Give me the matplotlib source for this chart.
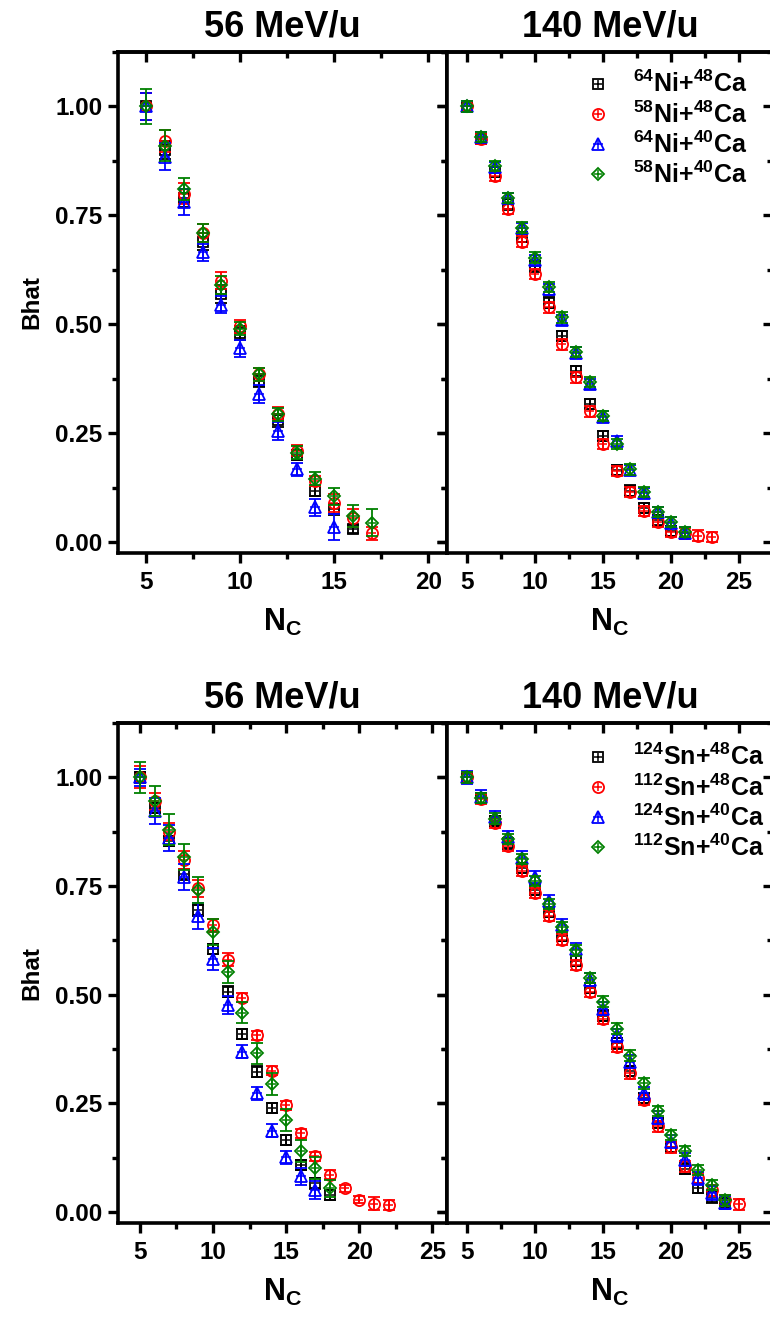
import matplotlib
matplotlib.use("Agg")
import matplotlib.pyplot as plt
from matplotlib.ticker import MultipleLocator, FormatStrFormatter
from matplotlib.lines import Line2D

plt.rcParams['font.family'] = ['Liberation Sans', 'DejaVu Sans']
plt.rcParams['font.weight'] = 'bold'
plt.rcParams['mathtext.fontset'] = 'custom'
plt.rcParams['mathtext.rm'] = 'Liberation Sans:bold'
plt.rcParams['mathtext.bf'] = 'Liberation Sans:bold'
plt.rcParams['mathtext.it'] = 'Liberation Sans:bold'

# ---------------- data ----------------
titles = ["56 MeV/u", "140 MeV/u"]
ni_labels = [r"$^{64}$Ni+$^{48}$Ca", r"$^{58}$Ni+$^{48}$Ca", r"$^{64}$Ni+$^{40}$Ca", r"$^{58}$Ni+$^{40}$Ca"]
sn_labels = [r"$^{124}$Sn+$^{48}$Ca", r"$^{112}$Sn+$^{48}$Ca", r"$^{124}$Sn+$^{40}$Ca", r"$^{112}$Sn+$^{40}$Ca"]

# Ni, 56 MeV/u
ni56_x = [list(range(5, 17)), list(range(5, 18)), list(range(5, 16)), list(range(5, 18))]
ni56_y = [
    [1.0, 0.90, 0.79, 0.69, 0.57, 0.48, 0.37, 0.28, 0.20, 0.117, 0.075, 0.03],
    [1.0, 0.92, 0.80, 0.71, 0.60, 0.495, 0.385, 0.295, 0.21, 0.14, 0.09, 0.055, 0.02],
    [1.0, 0.885, 0.78, 0.665, 0.545, 0.445, 0.34, 0.255, 0.167, 0.08, 0.034],
    [1.0, 0.91, 0.81, 0.71, 0.59, 0.49, 0.385, 0.293, 0.205, 0.145, 0.105, 0.06, 0.045],
]
ni56_e = [
    [0.03, 0.02, 0.02, 0.02, 0.02, 0.015, 0.015, 0.015, 0.012, 0.012, 0.012, 0.01],
    [0.03, 0.025, 0.025, 0.02, 0.02, 0.015, 0.015, 0.015, 0.012, 0.012, 0.02, 0.02, 0.015],
    [0.03, 0.03, 0.03, 0.02, 0.02, 0.02, 0.02, 0.02, 0.015, 0.02, 0.03],
    [0.04, 0.035, 0.025, 0.02, 0.02, 0.015, 0.015, 0.015, 0.015, 0.015, 0.02, 0.025, 0.03],
]

# Ni, 140 MeV/u
ni140_x = [list(range(5, 21)), list(range(5, 24)), list(range(5, 22)), list(range(5, 22))]
ni140_y = [
    [1.0, 0.925, 0.85, 0.775, 0.70, 0.633, 0.55, 0.473, 0.392, 0.317, 0.244, 0.165, 0.118, 0.078, 0.05, 0.025],
    [1.0, 0.925, 0.84, 0.764, 0.69, 0.615, 0.539, 0.454, 0.378, 0.30, 0.225, 0.163, 0.115, 0.072, 0.046, 0.023, 0.02, 0.015, 0.012],
    [1.0, 0.93, 0.86, 0.79, 0.72, 0.648, 0.58, 0.51, 0.435, 0.363, 0.288, 0.232, 0.165, 0.113, 0.068, 0.045, 0.022],
    [1.0, 0.93, 0.863, 0.79, 0.722, 0.653, 0.585, 0.516, 0.436, 0.367, 0.289, 0.225, 0.167, 0.115, 0.069, 0.046, 0.023],
]
ni140_e = [
    [0.012] * 16,
    [0.012] * 19,
    [0.012] * 17,
    [0.012] * 17,
]

# Sn, 56 MeV/u
sn56_x = [list(range(5, 19)), list(range(5, 23)), list(range(5, 18)), list(range(5, 19))]
sn56_y = [
    [1.0, 0.93, 0.854, 0.777, 0.694, 0.605, 0.507, 0.41, 0.323, 0.239, 0.166, 0.109, 0.066, 0.039],
    [1.0, 0.945, 0.875, 0.81, 0.745, 0.66, 0.58, 0.493, 0.407, 0.325, 0.246, 0.181, 0.128, 0.086, 0.055, 0.028, 0.019, 0.016],
    [1.0, 0.923, 0.86, 0.77, 0.682, 0.583, 0.476, 0.369, 0.273, 0.187, 0.126, 0.082, 0.051],
    [1.0, 0.946, 0.88, 0.816, 0.74, 0.644, 0.553, 0.459, 0.365, 0.294, 0.212, 0.14, 0.101, 0.055],
]
sn56_e = [
    [0.012] * 14,
    [0.025, 0.02, 0.02, 0.02, 0.02, 0.015, 0.015, 0.01, 0.01, 0.01, 0.01, 0.01, 0.01, 0.01, 0.008, 0.008, 0.015, 0.012],
    [0.02, 0.03, 0.03, 0.03, 0.03, 0.025, 0.02, 0.015, 0.015, 0.015, 0.015, 0.02, 0.02],
    [0.035, 0.035, 0.035, 0.03, 0.03, 0.03, 0.025, 0.025, 0.025, 0.025, 0.025, 0.025, 0.025, 0.02],
]

# Sn, 140 MeV/u
sn140_x = [list(range(5, 25)), list(range(5, 26)), list(range(5, 25)), list(range(5, 25))]
sn140_y = [
    [1.0, 0.952, 0.9, 0.848, 0.792, 0.742, 0.69, 0.635, 0.578, 0.515, 0.452, 0.388, 0.325, 0.262, 0.205, 0.15, 0.1, 0.055, 0.034, 0.02],
    [1.0, 0.95, 0.895, 0.842, 0.785, 0.734, 0.682, 0.627, 0.568, 0.507, 0.445, 0.38, 0.319, 0.258, 0.197, 0.149, 0.105, 0.078, 0.05, 0.028, 0.018],
    [1.0, 0.955, 0.908, 0.862, 0.815, 0.77, 0.715, 0.66, 0.605, 0.535, 0.468, 0.407, 0.346, 0.273, 0.217, 0.162, 0.12, 0.078, 0.044, 0.022],
    [1.0, 0.952, 0.905, 0.858, 0.812, 0.762, 0.709, 0.656, 0.602, 0.539, 0.484, 0.422, 0.36, 0.296, 0.233, 0.178, 0.141, 0.097, 0.063, 0.027],
]
sn140_e = [
    [0.012] * 20,
    [0.012] * 21,
    [0.015] * 20,
    [0.012] * 20,
]

colors = ['#000000', '#FF0000', '#0000FF', '#008000']
markers = ['s', 'o', '^', 'D']
msizes = [7.5, 8, 8.5, 7.5]

W, H = 770, 1317
fig = plt.figure(figsize=(W / 100, H / 100), dpi=100)


def px_axes(x0, y0, x1, y1):
    return fig.add_axes([x0 / W, 1 - y1 / H, (x1 - x0) / W, (y1 - y0) / H])


def style(ax, xlim, show_ylabels):
    ax.set_xlim(*xlim)
    ax.set_ylim(-0.025, 1.125)
    for s in ax.spines.values():
        s.set_linewidth(2.6)
    ax.xaxis.set_major_locator(MultipleLocator(5))
    ax.xaxis.set_minor_locator(MultipleLocator(2.5))
    ax.yaxis.set_major_locator(MultipleLocator(0.25))
    ax.yaxis.set_minor_locator(MultipleLocator(0.125))
    ax.tick_params(which='both', direction='out', top=False, right=False,
                   labelsize=17.5, width=2.4)
    ax.tick_params(axis='x', which='both', pad=6)
    ax.tick_params(axis='y', which='both', pad=4)
    ax.tick_params(which='major', length=7)
    ax.tick_params(which='minor', length=4.5)
    ax.tick_params(axis='y', labelleft=show_ylabels)
    ax.yaxis.set_major_formatter(FormatStrFormatter('%.2f'))
    for lab in ax.get_xticklabels() + ax.get_yticklabels():
        lab.set_fontweight('bold')
    sx = ax.secondary_xaxis('top')
    sx.xaxis.set_major_locator(MultipleLocator(5))
    sx.xaxis.set_minor_locator(MultipleLocator(2.5))
    sx.tick_params(which='both', direction='in', labeltop=False, width=2.4)
    sx.tick_params(which='major', length=7)
    sx.tick_params(which='minor', length=4.5)
    sx.spines['top'].set_linewidth(2.6)
    sy = ax.secondary_yaxis('right')
    sy.yaxis.set_major_locator(MultipleLocator(0.25))
    sy.yaxis.set_minor_locator(MultipleLocator(0.125))
    sy.tick_params(which='both', direction='in', labelright=False, width=2.4)
    sy.tick_params(which='major', length=7)
    sy.tick_params(which='minor', length=4.5)
    sy.spines['right'].set_linewidth(2.6)
    ax.set_xlabel(r'N$_\mathrm{C}$', fontsize=22, fontweight='bold', labelpad=9)
    if show_ylabels:
        ax.set_ylabel('Bhat', fontsize=17.5, fontweight='bold', labelpad=9)


def draw(ax, xs, ys, es):
    for i in range(4):
        c = colors[i]
        ax.errorbar(xs[i], ys[i], yerr=es[i], fmt='none', ecolor=c,
                    elinewidth=1.3, capsize=4, capthick=1.3, zorder=2 + i)
        ax.plot(xs[i], ys[i], ls='none', marker=markers[i], ms=msizes[i] * (0.8 if markers[i] == 'D' else 1),
                mfc='none', mec=c, mew=1.3, zorder=2 + i)
        ax.plot(xs[i], ys[i], ls='none', marker='+', ms=msizes[i] * 0.8,
                mec=c, mew=1.1, zorder=2 + i)


def legend(ax, labels, y0):
    handles = []
    for i in range(4):
        h1 = Line2D([], [], ls='none', marker=markers[i], ms=msizes[i] * (0.8 if markers[i] == 'D' else 1),
                    mfc='none', mec=colors[i], mew=1.3)
        h2 = Line2D([], [], ls='none', marker='+', ms=msizes[i] * 0.8, mec=colors[i], mew=1.1)
        handles.append((h1, h2))
    ax.legend(handles, labels, loc='upper left', bbox_to_anchor=(0.425, y0),
              frameon=False, borderpad=0, borderaxespad=0, handlelength=1.0,
              handletextpad=0.9, labelspacing=0.15, prop={'size': 18, 'weight': 'bold'})


panels = [
    ((118, 52, 447, 553), (3.5, 21), True, ni56_x, ni56_y, ni56_e, titles[0]),
    ((447, 52, 773, 553), (3.5, 27.5), False, ni140_x, ni140_y, ni140_e, titles[1]),
    ((118, 723, 447, 1223), (3.5, 26), True, sn56_x, sn56_y, sn56_e, titles[0]),
    ((447, 723, 773, 1223), (3.5, 27.5), False, sn140_x, sn140_y, sn140_e, titles[1]),
]

axes = []
for box, xlim, showy, xs, ys, es, title in panels:
    ax = px_axes(*box)
    style(ax, xlim, showy)
    draw(ax, xs, ys, es)
    ax.set_title(title, fontsize=26, fontweight='bold', pad=11)
    axes.append(ax)

legend(axes[1], ni_labels, 0.962)
legend(axes[3], sn_labels, 0.958)

fig.savefig('out.png', dpi=100)
